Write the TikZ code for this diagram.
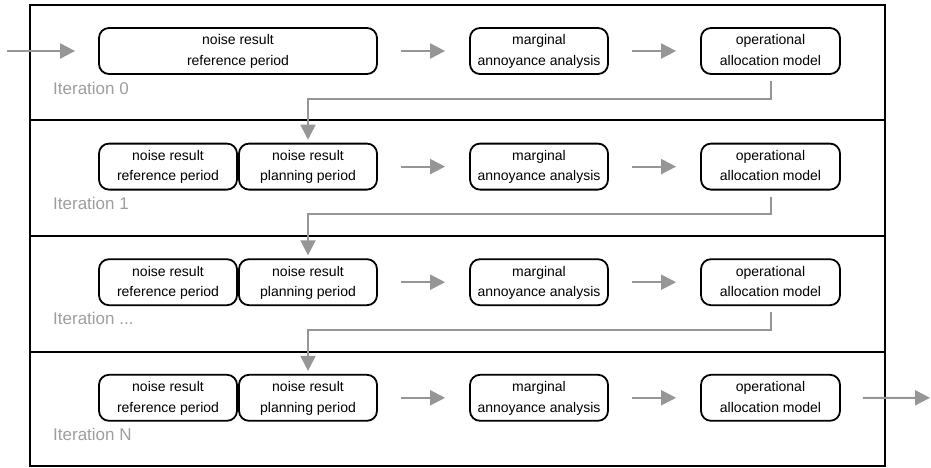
\documentclass[tikz,border=0pt]{standalone}
\usepackage{fontspec}
\setmainfont{Liberation Sans}
\usetikzlibrary{arrows.meta}
\definecolor{arrowgray}{RGB}{150,150,150}
\definecolor{labelgray}{RGB}{158,158,158}
\newcommand{\itdots}{...}
\begin{document}
\begin{tikzpicture}[x=1pt,y=-1pt,
  stage/.style={draw, line width=1.8pt, rounded corners=10pt, align=center,
    minimum height=46pt, inner sep=0pt, font=\fontsize{14}{20.5}\selectfont},
  flow/.style={draw=arrowgray, line width=2pt, -{Triangle[length=15pt,width=15pt]}},
  itlabel/.style={text=labelgray, font=\fontsize{17}{20}\selectfont, anchor=west, inner sep=0pt},
  frameline/.style={line width=2pt}]
\useasboundingbox (0,0) rectangle (931,468);
% frame
\draw[frameline] (30,5) rectangle (885,466);
\draw[frameline] (30,120.5) -- (885,120.5);
\draw[frameline] (30,236) -- (885,236);
\draw[frameline] (30,351.5) -- (885,351.5);
% row 0
\node[stage, minimum width=278pt] (ref0) at (238,51) {\strut noise result\\reference period\strut};
\node[stage, minimum width=138pt] (marg0) at (539,51) {\strut marginal\\annoyance analysis\strut};
\node[stage, minimum width=139pt] (op0) at (770.5,51) {\strut operational\\allocation model\strut};
\node[itlabel] (lab0) at (53,88) {Iteration 0};
\draw[flow, shorten <=23pt, shorten >=24pt] (ref0) -- (marg0);
\draw[flow, shorten <=23pt, shorten >=24pt] (marg0) -- (op0);
% rows 1..3
\foreach \i/\t in {1/1,2/\itdots,3/N}{
  \pgfmathsetmacro{\yy}{51+115.6*\i}
  \pgfmathsetmacro{\ly}{88+115.4*\i}
  \node[stage, minimum width=138pt] (ref\i) at (168,\yy) {\strut noise result\\reference period\strut};
  \node[stage, minimum width=138pt] (plan\i) at (308,\yy) {\strut noise result\\planning period\strut};
  \node[stage, minimum width=138pt] (marg\i) at (539,\yy) {\strut marginal\\annoyance analysis\strut};
  \node[stage, minimum width=139pt] (op\i) at (770.5,\yy) {\strut operational\\allocation model\strut};
  \node[itlabel] (lab\i) at (53,\ly) {Iteration \t};
  \draw[flow, shorten <=23pt, shorten >=24pt] (plan\i) -- (marg\i);
  \draw[flow, shorten <=23pt, shorten >=24pt] (marg\i) -- (op\i);
}
% feedback connectors
\foreach \i/\j in {0/1,1/2,2/3}{
  \draw[flow, shorten <=6pt, shorten >=3pt] (op\i.south) -- ++(0,23.7) -| (plan\j.north);
}
% entry and exit
\coordinate (in) at (7,51);
\coordinate (out) at (930,397.8);
\draw[flow, shorten >=23pt] (in) -- (ref0.west);
\draw[flow, shorten <=22pt] (op3.east) -- (out);
\end{tikzpicture}
\end{document}
